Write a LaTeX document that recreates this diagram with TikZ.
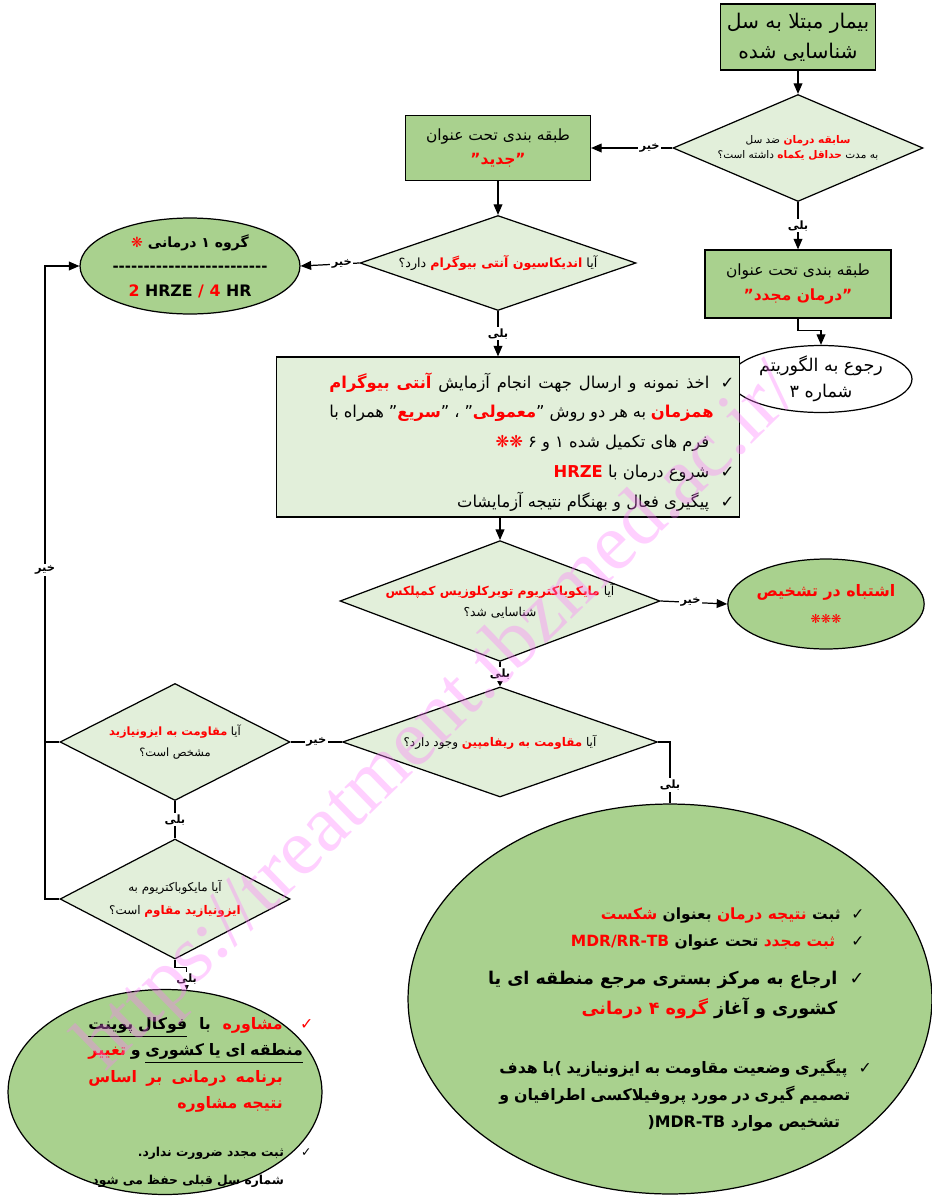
\documentclass[tikz,border=0pt]{standalone}
\usepackage{fontspec}
\setmainfont{DejaVu Sans}[Script=Arabic]
\newfontfamily\wmfont{Liberation Serif}
\usetikzlibrary{shapes.geometric,arrows.meta}
\TeXXeTstate=1
\definecolor{boxgreen}{RGB}{169,209,142}
\definecolor{lightgreen}{RGB}{226,239,218}
\definecolor{wmpink}{RGB}{255,120,255}
\newcommand\rtl[1]{\leavevmode\beginR#1\endR}
\newcommand\hl[1]{{\bfseries\addfontfeatures{Color=FF0000}#1}}
\newcommand\redsym[1]{{\mdseries\addfontfeatures{Color=FF0000}#1}}
\newcommand\jls{\spaceskip=0.3em plus 2em\relax}
\newcommand\ul[1]{\underline{\hbox{\beginR#1\endR}}}
\newcommand\ck{{\mdseries ✓}\hspace{0.7em}}
\newcommand\nock{\phantom{✓}\hspace{0.7em}}
\newcommand\ckw{{\mdseries ✓}\hspace{1.4em}}
\newcommand\nockw{\phantom{✓}\hspace{1.4em}}
\newcommand\rck{\redsym{✓}\hspace{1.1em}}
\newcommand\nockr{\phantom{✓}\hspace{1.1em}}
\newcommand\dashline{-{}-{}-{}-{}-{}-{}-{}-{}-{}-{}-{}-{}-{}-{}-{}-{}-{}-{}-{}-{}-{}-{}-{}-{}-}
\begin{document}
\begin{tikzpicture}[x=0.02cm, y=-0.02cm, line width=0.7pt,
  box/.style={draw, fill=boxgreen, align=center, inner sep=1pt},
  dia/.style={diamond, draw, fill=lightgreen, align=center, inner sep=0pt},
  oval/.style={ellipse, draw, fill=boxgreen, align=center, inner sep=0pt},
  txt/.style={anchor=east, align=right, inner sep=0pt},
  lbl/.style={fill=white, inner sep=0.8pt, font=\bfseries\fontsize{6.5}{7}\selectfont},
  arr/.style={-{Triangle[length=6pt,width=5pt]}}]
\useasboundingbox (0,0) rectangle (931,1197);

% top row
\node[box, minimum width=3.1cm, minimum height=1.32cm, font=\fontsize{11.5}{17}\selectfont] (ill) at (798,37) {\rtl{بیمار مبتلا به سل}\\\rtl{شناسایی شده}};
\node[dia, minimum width=5cm, minimum height=2.14cm, shape aspect=2.3, font=\fontsize{6}{9}\selectfont] (hist) at (798,148) {\rtl{\hl{سابقه درمان} ضد سل}\\\rtl{به مدت \hl{حداقل یکماه} داشته است؟}};
\node[box, minimum width=3.7cm, minimum height=1.3cm, font=\fontsize{8.8}{14}\selectfont] (new) at (498,148) {\rtl{طبقه بندی تحت عنوان}\\\rtl{\hl{"جدید"}}};
\node[box, minimum width=3.72cm, minimum height=1.36cm, font=\fontsize{8.8}{14}\selectfont] (retr) at (798,284) {\rtl{طبقه بندی تحت عنوان}\\\rtl{\hl{"درمان مجدد"}}};
\node[oval, fill=white, minimum width=3.64cm, minimum height=1.34cm, font=\fontsize{10}{15}\selectfont] (alg) at (821,379) {\rtl{رجوع به الگوریتم}\\\rtl{شماره ۳}};

% new cases
\node[dia, minimum width=5.52cm, minimum height=1.9cm, shape aspect=2.9, font=\fontsize{7.2}{9}\selectfont] (dst) at (498,263) {\rtl{آیا \hl{اندیکاسیون آنتی بیوگرام} دارد؟}};
\node[oval, minimum width=4.4cm, minimum height=1.92cm] (grp) at (190,266) {{\bfseries\fontsize{8}{12}\selectfont\rtl{گروه ۱ درمانی \redsym{❋}}}\\[2pt]{\bfseries\fontsize{8.5}{12}\selectfont\dashline}\\[2pt]{\bfseries\fontsize{9}{13}\selectfont\hl{2} HRZE \hl{/ 4} HR}};
\node[draw, fill=lightgreen, minimum width=9.26cm, minimum height=3.2cm] (work) at (508,437) {};
\node[txt, font=\fontsize{9.3}{17}\selectfont] (worktxt) at (735,442) {%
\hbox to 8.1cm{\jls\beginR\ck اخذ نمونه و ارسال جهت انجام آزمایش \hl{آنتی بیوگرام}\endR}\\
\hbox to 8.1cm{\jls\beginR\nock\hl{همزمان} به هر دو روش "\hl{معمولی}" ، "\hl{سریع}" همراه با\endR}\\
\rtl{\nock فرم های تکمیل شده ۱ و ۶ \redsym{❋❋}}\\
\rtl{\ck شروع درمان با \hl{HRZE}}\\
\rtl{\ck پیگیری فعال و بهنگام نتیجه آزمایشات}};
\node[dia, minimum width=6.2cm, minimum height=2.34cm, shape aspect=2.65, font=\fontsize{7}{12}\selectfont] (mtb) at (500,601) {\rtl{آیا \hl{مایکوباکتریوم توبرکلوزیس کمپلکس}}\\\rtl{شناسایی شد؟}};
\node[oval, minimum width=3.74cm, minimum height=1.8cm, font=\fontsize{9}{14}\selectfont] (err) at (826,604) {\rtl{\hl{اشتباه در تشخیص}}\\[1pt]{\fontsize{7}{9}\selectfont\redsym{❋❋❋}}};

% resistance
\node[dia, minimum width=6.3cm, minimum height=2.2cm, shape aspect=2.86, font=\fontsize{6.8}{10}\selectfont] (rif) at (500,742) {\rtl{آیا \hl{مقاومت به ریفامپین} وجود دارد؟}};
\node[dia, minimum width=4.6cm, minimum height=2.34cm, shape aspect=1.97, font=\fontsize{6.5}{12}\selectfont] (inh) at (175,742) {\rtl{آیا \hl{مقاومت به ایزونیازید}}\\\rtl{مشخص است؟}};
\node[dia, minimum width=4.6cm, minimum height=2.4cm, shape aspect=1.92, font=\fontsize{6.8}{13}\selectfont] (inhr) at (175,899) {\rtl{آیا مایکوباکتریوم به}\\\rtl{\hl{ایزونیازید مقاوم} است؟}};

% outcomes
\node[oval, minimum width=10.48cm, minimum height=7.8cm] (fail) at (670,999) {};
\node[txt, font=\bfseries\fontsize{8.8}{15}\selectfont] (ft1) at (865,929) {\rtl{\ck ثبت \hl{نتیجه درمان} بعنوان \hl{شکست}}\\\rtl{\ck\ \hl{ثبت مجدد} تحت عنوان \hl{MDR/RR-TB}}};
\node[txt, font=\bfseries\fontsize{10}{17}\selectfont] (ft2) at (865,995) {\rtl{\ck ارجاع به مرکز بستری مرجع منطقه ای یا}\\\rtl{\nock کشوری و آغاز \hl{گروه ۴ درمانی}}};
\node[txt, font=\bfseries\fontsize{9}{15.5}\selectfont] (ft3) at (865,1095) {\hbox to 7.3cm{\jls\beginR\ck پیگیری وضعیت مقاومت به ایزونیازید \hbox{)}با هدف\endR}\\\hbox to 7.3cm{\jls\beginR\nock تصمیم گیری در مورد پروفیلاکسی اطرافیان و\endR}\\\rtl{\nock تشخیص موارد MDR-TB\hbox{(}}};

\node[oval, minimum width=6.28cm, minimum height=4.1cm] (cons) at (165,1092) {};
\node[txt, font=\bfseries\fontsize{9}{15}\selectfont] (lt1) at (314,1065) {\hbox to 4.5cm{\jls\beginR\rck\hl{مشاوره} با \ul{فوکال پوینت}\endR}\\\hbox to 4.5cm{\jls\beginR\nockr\ul{منطقه ای یا کشوری} و \hl{تغییر}\endR}\\\hbox to 4.5cm{\jls\beginR\nockr\hl{برنامه} \hl{درمانی} \hl{بر} \hl{اساس}\endR}\\\rtl{\nockr\hl{نتیجه مشاوره}}};
\node[txt, font=\bfseries\fontsize{7}{16}\selectfont] (lt2) at (312,1167) {\rtl{\ckw ثبت مجدد ضرورت ندارد\hbox{.}}\\\rtl{\nockw شماره سل قبلی حفظ می شود}};

% connectors
\draw[arr] (ill) -- (hist);
\draw[arr] (hist.west) -- node[lbl, pos=0.28] (n1) {\rtl{خیر}} (new.east);
\draw[arr] (hist.south) -- node[lbl] (y1) {\rtl{بلی}} (retr.north);
\draw[arr] (retr.south) -- ++(0,12) -| (alg.north);
\draw[arr] (new.south) -- (dst.north);
\draw[arr] (dst.west) -- node[lbl, pos=0.3] (n2) {\rtl{خیر}} (grp.east);
\draw[arr] (dst.south) -- node[lbl] (y2) {\rtl{بلی}} (dst.south |- work.north);
\draw[arr] (work.south -| mtb.north) -- (mtb.north);
\draw[arr] (mtb.east) -- node[lbl, pos=0.45] (n3) {\rtl{خیر}} (err.west);
\draw[-{Triangle[length=4pt,width=4pt]}] (mtb.south) -- node[lbl] (y3) {\rtl{بلی}} (rif.north);
\draw (rif.west) -- node[lbl] (n4) {\rtl{خیر}} (inh.east);
\draw (rif.east) -| node[lbl, pos=0.85] (y4) {\rtl{بلی}} (fail.north);
\draw (inh.south) -- node[lbl] (y5) {\rtl{بلی}} (inhr.north);
\draw[arr] (inhr.south) -- ++(0,8) -| node[lbl, pos=0.75] (y6) {\rtl{بلی}} (cons.78);
\coordinate (lp) at (45,570);
\draw[arr] (inhr.west) -| (lp) |- (grp.west);
\draw (inh.west) -- (inh.west -| lp);
\node[lbl] (n5) at (lp) {\rtl{خیر}};

% watermark
\node[rotate=44.2, text=wmpink, opacity=0.35, inner sep=0pt, font=\wmfont\fontsize{46}{46}\selectfont] (wm) at (440,720) {https://treatment.tbzmed.ac.ir/};
\end{tikzpicture}
\end{document}
